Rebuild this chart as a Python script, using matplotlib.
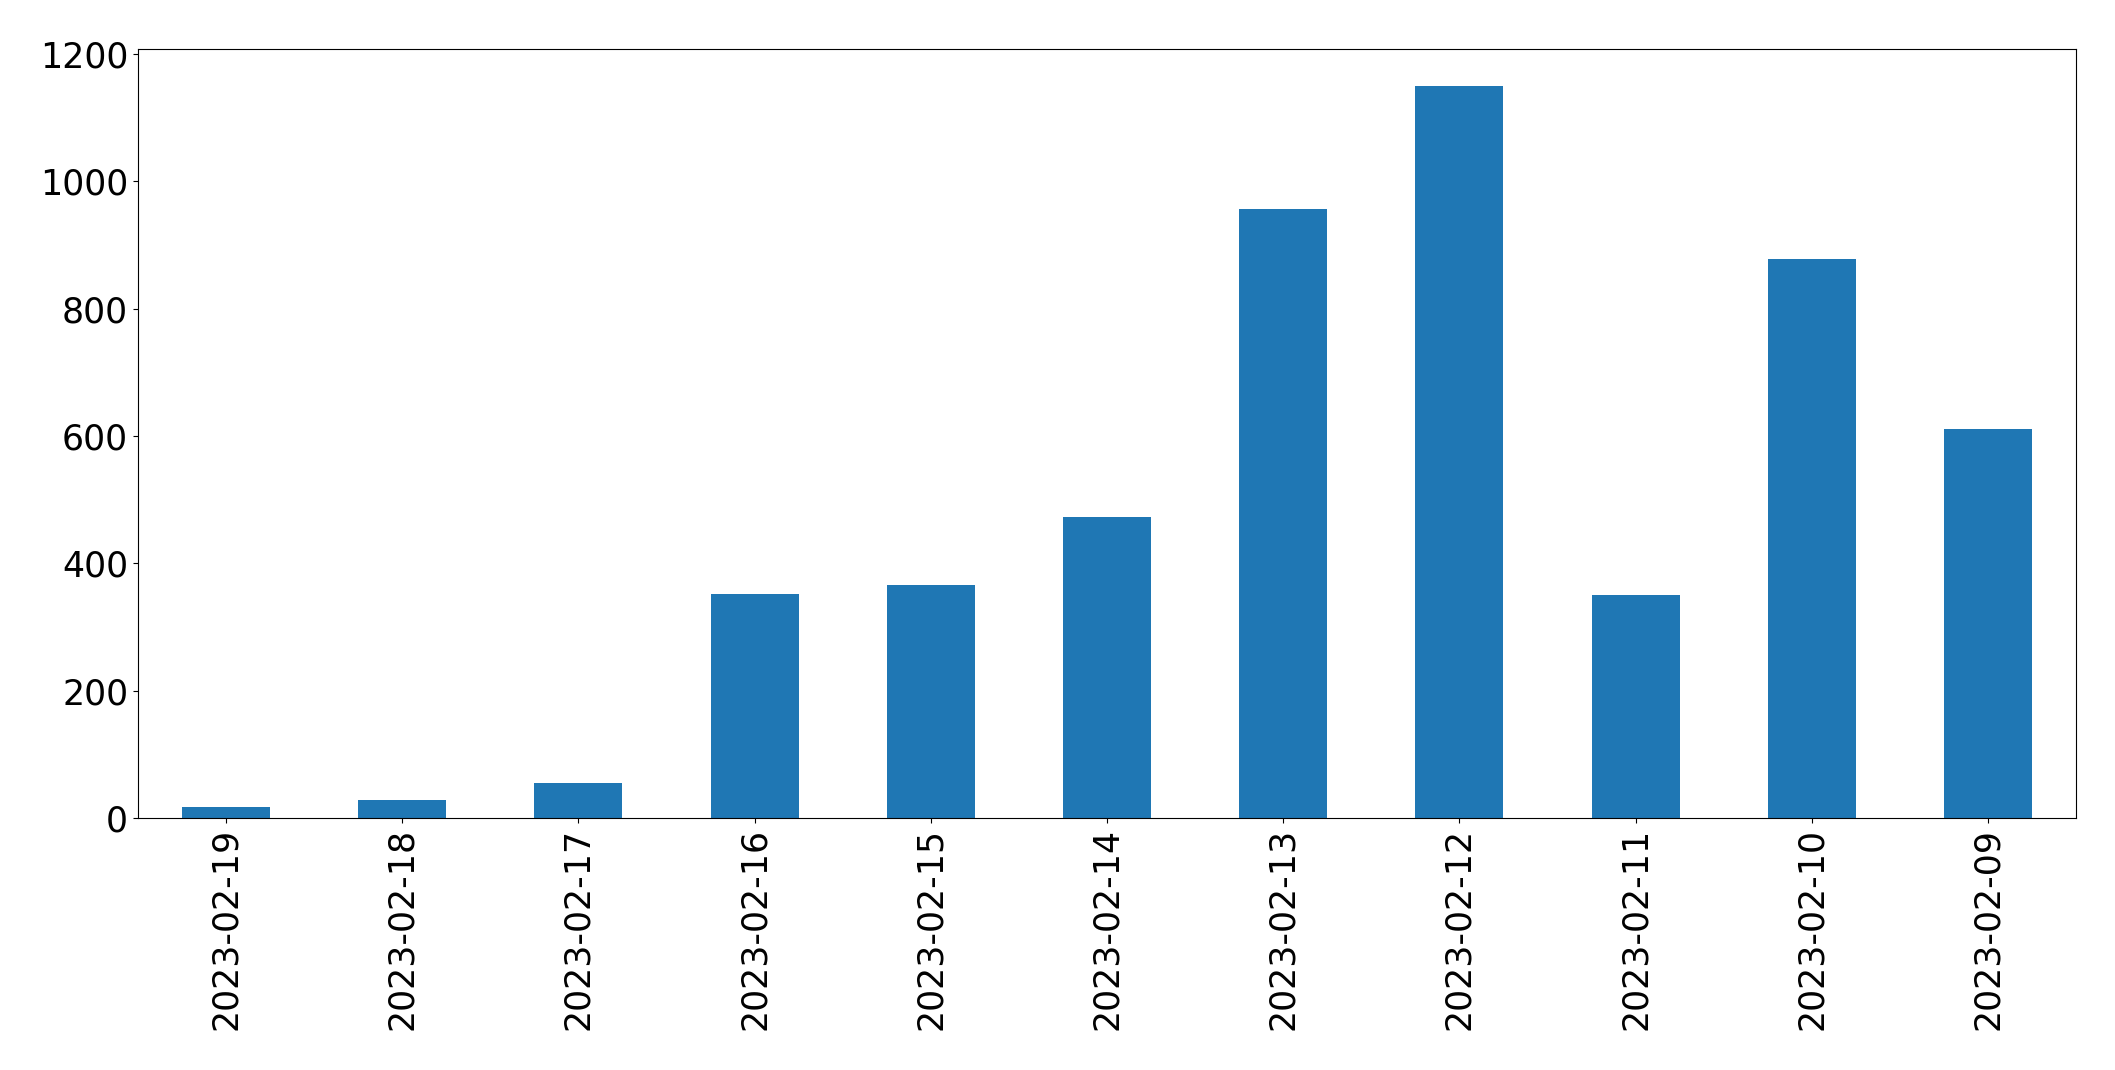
import numpy as np
import matplotlib
matplotlib.use("Agg")
import matplotlib.pyplot as plt

dates = ["2023-02-19", "2023-02-18", "2023-02-17", "2023-02-16", "2023-02-15",
         "2023-02-14", "2023-02-13", "2023-02-12", "2023-02-11", "2023-02-10",
         "2023-02-09"]
counts = [18, 29, 55, 352, 366, 473, 956, 1150, 350, 877, 611]

fig = plt.figure(figsize=(21.15, 10.7), dpi=100)
ax = fig.add_axes([0.0652, 0.2355, 0.9164, 0.7187])

x = np.arange(len(dates))
ax.bar(x, counts, width=0.5, color="#1f77b4")
ax.set_xlim(-0.5, len(dates) - 0.5)
ax.set_ylim(0, max(counts) * 1.05)
ax.set_xticks(x)
ax.set_xticklabels(dates, rotation=90)
ax.tick_params(axis="both", labelsize=25)

fig.savefig("out.png", dpi=100)
